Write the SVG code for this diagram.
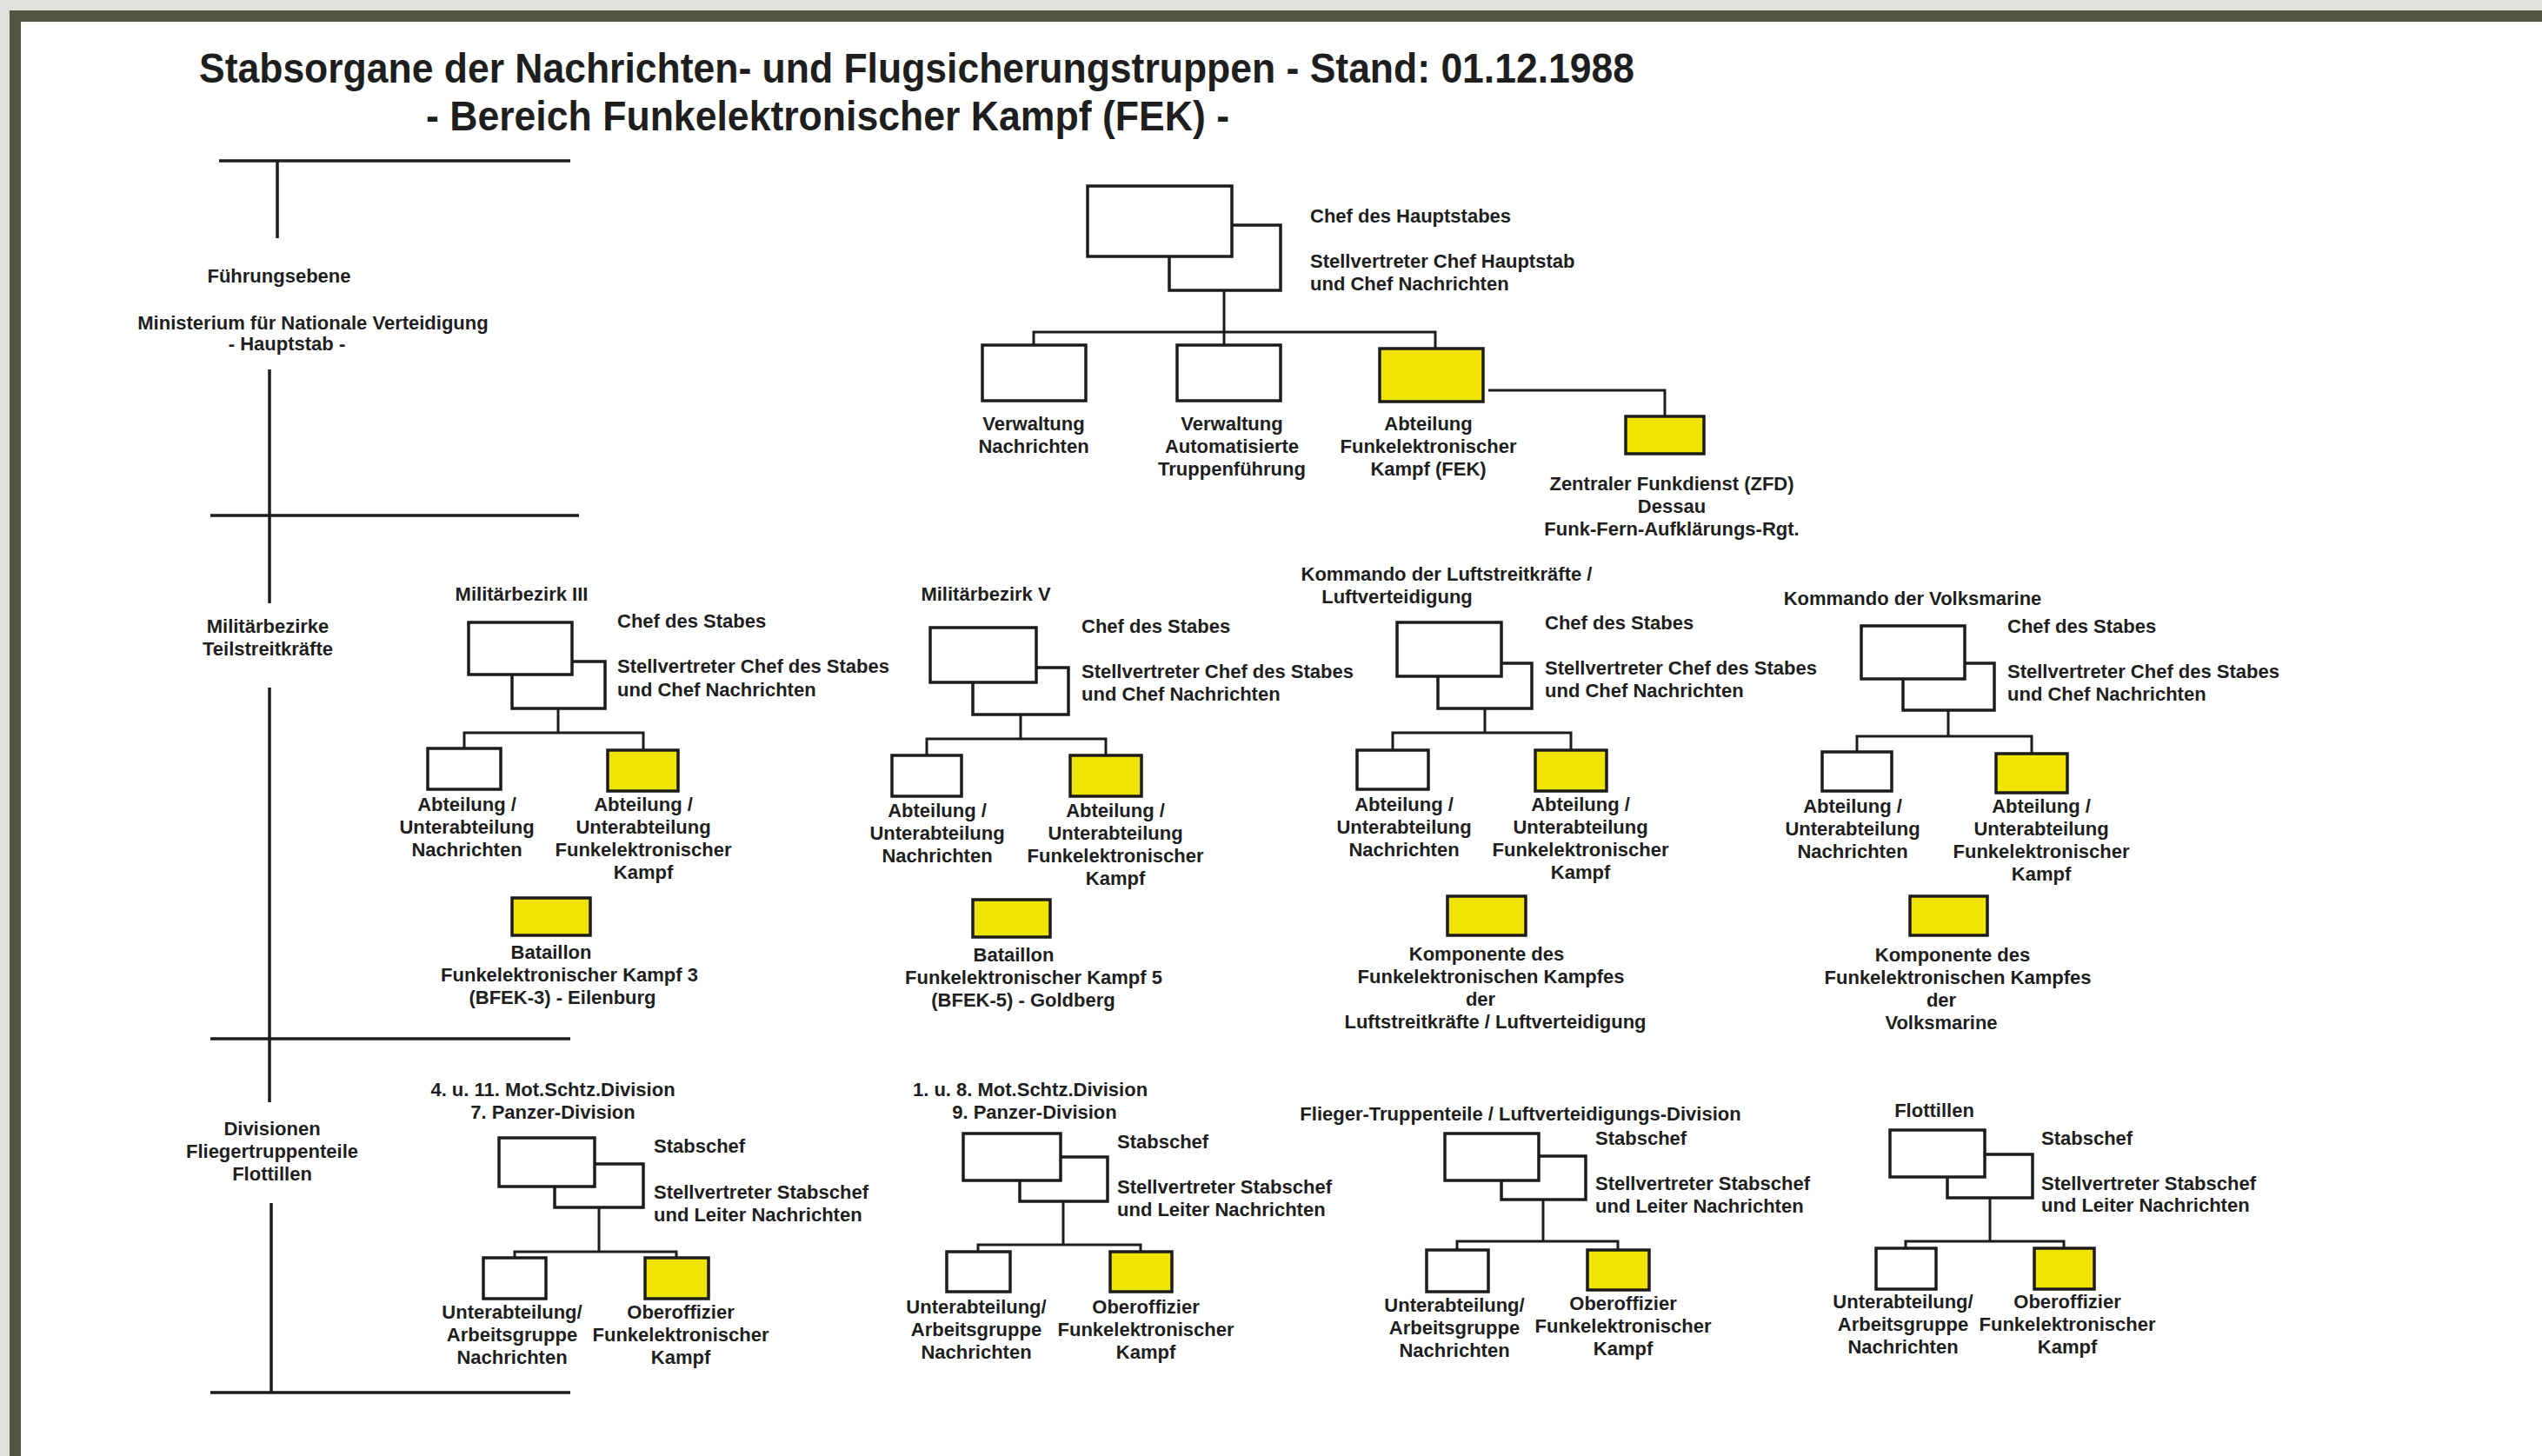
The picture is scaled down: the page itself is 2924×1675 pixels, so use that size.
<svg xmlns="http://www.w3.org/2000/svg" width="2924" height="1675" viewBox="0 0 2924 1675">
<style>
.bx{fill:#fff;stroke:#1c1c1c;stroke-width:3.5}
.yb{fill:#f0e400;stroke:#1c1c1c;stroke-width:3.5}
.c{fill:none;stroke:#1c1c1c;stroke-width:3}
.ax{fill:none;stroke:#1c1c1c;stroke-width:3.5}
text{font-family:"Liberation Sans",Arial,sans-serif;font-weight:bold;font-size:22px;fill:#1e1e1e}
.m{text-anchor:middle}
.ti{font-size:48px}
</style>
<rect x="0" y="0" width="2924" height="1675" fill="#e2e1dc"/>
<rect x="11" y="12" width="2913" height="1663" fill="#535740"/>
<rect x="24" y="25" width="2900" height="1650" fill="#ffffff"/>

<g id="title">
<text class="ti" x="229" y="95" textLength="1651" lengthAdjust="spacingAndGlyphs">Stabsorgane der Nachrichten- und Flugsicherungstruppen - Stand: 01.12.1988</text>
<text class="ti" x="490" y="150" textLength="924" lengthAdjust="spacingAndGlyphs">- Bereich Funkelektronischer Kampf (FEK) -</text>
</g>

<g id="axis">
<path class="ax" d="M252 185H656M319 185V274M310 425V694M242 593H666M310 791V1268M242 1195H656M312 1384V1602M242 1602H656"/>
<text class="m" x="321" y="325">Führungsebene</text>
<text class="m" x="360" y="379">Ministerium für Nationale Verteidigung</text>
<text class="m" x="330" y="403">- Hauptstab -</text>
<text class="m" x="308" y="728">Militärbezirke</text>
<text class="m" x="308" y="754">Teilstreitkräfte</text>
<text class="m" x="313" y="1306">Divisionen</text>
<text class="m" x="313" y="1332">Fliegertruppenteile</text>
<text class="m" x="313" y="1358">Flottillen</text>
</g>

<g id="connectors">
<path class="c" d="M1408 334V397M1189 397V382H1651V401M1712 449H1915V479"/>
<path class="c" d="M642 815V843M534 861V843H740V863"/>
<path class="c" d="M1174 822V850M1066 869V850H1272V869"/>
<path class="c" d="M1708 815V843M1602 863V843H1807V863"/>
<path class="c" d="M2241 817V847M2136 865V847H2337V867"/>
<path class="c" d="M689 1389V1440M592 1447V1440H778V1447"/>
<path class="c" d="M1223 1382V1432M1125 1440V1432H1312V1440"/>
<path class="c" d="M1775 1380V1428M1676 1438V1428H1861V1438"/>
<path class="c" d="M2289 1378V1428M2192 1436V1428H2374V1436"/>
</g>

<g id="chef-hauptstab">
<rect class="bx" x="1345" y="259" width="128" height="75"/>
<rect class="bx" x="1251" y="214" width="166" height="81"/>
<text x="1507" y="256">Chef des Hauptstabes</text>
<text x="1507" y="308">Stellvertreter Chef Hauptstab</text>
<text x="1507" y="334">und Chef Nachrichten</text>
</g>
<g id="verw-nachrichten">
<rect class="bx" x="1130" y="397" width="119" height="64"/>
<text class="m" x="1189" y="495">Verwaltung</text>
<text class="m" x="1189" y="521">Nachrichten</text>
</g>
<g id="verw-atf">
<rect class="bx" x="1354" y="397" width="119" height="64"/>
<text class="m" x="1417" y="495">Verwaltung</text>
<text class="m" x="1417" y="521">Automatisierte</text>
<text class="m" x="1417" y="547">Truppenführung</text>
</g>
<g id="abt-fek">
<rect class="yb" x="1587" y="401" width="119" height="61"/>
<text class="m" x="1643" y="495">Abteilung</text>
<text class="m" x="1643" y="521">Funkelektronischer</text>
<text class="m" x="1643" y="547">Kampf (FEK)</text>
</g>
<g id="zfd">
<rect class="yb" x="1870" y="479" width="90" height="43"/>
<text class="m" x="1923" y="564">Zentraler Funkdienst (ZFD)</text>
<text class="m" x="1923" y="590">Dessau</text>
<text class="m" x="1923" y="616">Funk-Fern-Aufklärungs-Rgt.</text>
</g>

<!-- Militärbezirk III -->
<g id="mb3-stab">
<text class="m" x="600" y="691">Militärbezirk III</text>
<rect class="bx" x="589" y="761" width="107" height="54"/>
<rect class="bx" x="539" y="716" width="119" height="60"/>
<text x="710" y="722">Chef des Stabes</text>
<text x="710" y="774">Stellvertreter Chef des Stabes</text>
<text x="710" y="801">und Chef Nachrichten</text>
</g>
<g id="mb3-nachr">
<rect class="bx" x="492" y="861" width="84" height="47"/>
<text class="m" x="537" y="933">Abteilung /</text>
<text class="m" x="537" y="959">Unterabteilung</text>
<text class="m" x="537" y="985">Nachrichten</text>
</g>
<g id="mb3-fek">
<rect class="yb" x="699" y="863" width="81" height="47"/>
<text class="m" x="740" y="933">Abteilung /</text>
<text class="m" x="740" y="959">Unterabteilung</text>
<text class="m" x="740" y="985">Funkelektronischer</text>
<text class="m" x="740" y="1011">Kampf</text>
</g>
<g id="bfek3">
<rect class="yb" x="589" y="1033" width="90" height="43"/>
<text class="m" x="634" y="1103">Bataillon</text>
<text class="m" x="655" y="1129">Funkelektronischer Kampf 3</text>
<text class="m" x="647" y="1155">(BFEK-3) - Eilenburg</text>
</g>

<!-- Militärbezirk V -->
<g id="mb5-stab">
<text class="m" x="1134" y="691">Militärbezirk V</text>
<rect class="bx" x="1119" y="768" width="110" height="54"/>
<rect class="bx" x="1070" y="722" width="122" height="63"/>
<text x="1244" y="728">Chef des Stabes</text>
<text x="1244" y="780">Stellvertreter Chef des Stabes</text>
<text x="1244" y="806">und Chef Nachrichten</text>
</g>
<g id="mb5-nachr">
<rect class="bx" x="1026" y="869" width="80" height="47"/>
<text class="m" x="1078" y="940">Abteilung /</text>
<text class="m" x="1078" y="966">Unterabteilung</text>
<text class="m" x="1078" y="992">Nachrichten</text>
</g>
<g id="mb5-fek">
<rect class="yb" x="1231" y="869" width="82" height="47"/>
<text class="m" x="1283" y="940">Abteilung /</text>
<text class="m" x="1283" y="966">Unterabteilung</text>
<text class="m" x="1283" y="992">Funkelektronischer</text>
<text class="m" x="1283" y="1018">Kampf</text>
</g>
<g id="bfek5">
<rect class="yb" x="1119" y="1035" width="89" height="43"/>
<text class="m" x="1166" y="1106">Bataillon</text>
<text class="m" x="1189" y="1132">Funkelektronischer Kampf 5</text>
<text class="m" x="1177" y="1158">(BFEK-5) - Goldberg</text>
</g>

<!-- LSK/LV -->
<g id="lsk-stab">
<text class="m" x="1664" y="668">Kommando der Luftstreitkräfte /</text>
<text class="m" x="1607" y="694">Luftverteidigung</text>
<rect class="bx" x="1654" y="763" width="108" height="52"/>
<rect class="bx" x="1607" y="716" width="120" height="62"/>
<text x="1777" y="724">Chef des Stabes</text>
<text x="1777" y="776">Stellvertreter Chef des Stabes</text>
<text x="1777" y="802">und Chef Nachrichten</text>
</g>
<g id="lsk-nachr">
<rect class="bx" x="1561" y="863" width="82" height="45"/>
<text class="m" x="1615" y="933">Abteilung /</text>
<text class="m" x="1615" y="959">Unterabteilung</text>
<text class="m" x="1615" y="985">Nachrichten</text>
</g>
<g id="lsk-fek">
<rect class="yb" x="1766" y="863" width="82" height="47"/>
<text class="m" x="1818" y="933">Abteilung /</text>
<text class="m" x="1818" y="959">Unterabteilung</text>
<text class="m" x="1818" y="985">Funkelektronischer</text>
<text class="m" x="1818" y="1011">Kampf</text>
</g>
<g id="lsk-komp">
<rect class="yb" x="1665" y="1031" width="90" height="45"/>
<text class="m" x="1710" y="1105">Komponente des</text>
<text class="m" x="1715" y="1131">Funkelektronischen Kampfes</text>
<text class="m" x="1703" y="1157">der</text>
<text class="m" x="1720" y="1183">Luftstreitkräfte / Luftverteidigung</text>
</g>

<!-- Volksmarine -->
<g id="vm-stab">
<text class="m" x="2200" y="696">Kommando der Volksmarine</text>
<rect class="bx" x="2189" y="763" width="105" height="54"/>
<rect class="bx" x="2141" y="720" width="119" height="61"/>
<text x="2309" y="728">Chef des Stabes</text>
<text x="2309" y="780">Stellvertreter Chef des Stabes</text>
<text x="2309" y="806">und Chef Nachrichten</text>
</g>
<g id="vm-nachr">
<rect class="bx" x="2096" y="865" width="80" height="45"/>
<text class="m" x="2131" y="935">Abteilung /</text>
<text class="m" x="2131" y="961">Unterabteilung</text>
<text class="m" x="2131" y="987">Nachrichten</text>
</g>
<g id="vm-fek">
<rect class="yb" x="2296" y="867" width="82" height="45"/>
<text class="m" x="2348" y="935">Abteilung /</text>
<text class="m" x="2348" y="961">Unterabteilung</text>
<text class="m" x="2348" y="987">Funkelektronischer</text>
<text class="m" x="2348" y="1013">Kampf</text>
</g>
<g id="vm-komp">
<rect class="yb" x="2197" y="1031" width="89" height="45"/>
<text class="m" x="2246" y="1106">Komponente des</text>
<text class="m" x="2252" y="1132">Funkelektronischen Kampfes</text>
<text class="m" x="2233" y="1158">der</text>
<text class="m" x="2233" y="1184">Volksmarine</text>
</g>

<!-- Division A -->
<g id="divA-stab">
<text class="m" x="636" y="1261">4. u. 11. Mot.Schtz.Division</text>
<text class="m" x="636" y="1287">7. Panzer-Division</text>
<rect class="bx" x="638" y="1339" width="102" height="50"/>
<rect class="bx" x="574" y="1309" width="110" height="56"/>
<text x="752" y="1326">Stabschef</text>
<text x="752" y="1379">Stellvertreter Stabschef</text>
<text x="752" y="1405">und Leiter Nachrichten</text>
</g>
<g id="divA-nachr">
<rect class="bx" x="556" y="1447" width="72" height="47"/>
<text class="m" x="589" y="1517">Unterabteilung/</text>
<text class="m" x="589" y="1543">Arbeitsgruppe</text>
<text class="m" x="589" y="1569">Nachrichten</text>
</g>
<g id="divA-fek">
<rect class="yb" x="742" y="1447" width="73" height="47"/>
<text class="m" x="783" y="1517">Oberoffizier</text>
<text class="m" x="783" y="1543">Funkelektronischer</text>
<text class="m" x="783" y="1569">Kampf</text>
</g>

<!-- Division B -->
<g id="divB-stab">
<text class="m" x="1185" y="1261">1. u. 8. Mot.Schtz.Division</text>
<text class="m" x="1190" y="1287">9. Panzer-Division</text>
<rect class="bx" x="1173" y="1331" width="101" height="51"/>
<rect class="bx" x="1108" y="1304" width="112" height="54"/>
<text x="1285" y="1321">Stabschef</text>
<text x="1285" y="1373">Stellvertreter Stabschef</text>
<text x="1285" y="1399">und Leiter Nachrichten</text>
</g>
<g id="divB-nachr">
<rect class="bx" x="1089" y="1440" width="73" height="46"/>
<text class="m" x="1123" y="1511">Unterabteilung/</text>
<text class="m" x="1123" y="1537">Arbeitsgruppe</text>
<text class="m" x="1123" y="1563">Nachrichten</text>
</g>
<g id="divB-fek">
<rect class="yb" x="1277" y="1440" width="71" height="46"/>
<text class="m" x="1318" y="1511">Oberoffizier</text>
<text class="m" x="1318" y="1537">Funkelektronischer</text>
<text class="m" x="1318" y="1563">Kampf</text>
</g>

<!-- Division C -->
<g id="divC-stab">
<text class="m" x="1749" y="1289">Flieger-Truppenteile / Luftverteidigungs-Division</text>
<rect class="bx" x="1727" y="1330" width="97" height="50"/>
<rect class="bx" x="1662" y="1304" width="108" height="54"/>
<text x="1835" y="1317">Stabschef</text>
<text x="1835" y="1369">Stellvertreter Stabschef</text>
<text x="1835" y="1395">und Leiter Nachrichten</text>
</g>
<g id="divC-nachr">
<rect class="bx" x="1641" y="1438" width="71" height="48"/>
<text class="m" x="1673" y="1509">Unterabteilung/</text>
<text class="m" x="1673" y="1535">Arbeitsgruppe</text>
<text class="m" x="1673" y="1561">Nachrichten</text>
</g>
<g id="divC-fek">
<rect class="yb" x="1826" y="1438" width="71" height="46"/>
<text class="m" x="1867" y="1507">Oberoffizier</text>
<text class="m" x="1867" y="1533">Funkelektronischer</text>
<text class="m" x="1867" y="1559">Kampf</text>
</g>

<!-- Division D -->
<g id="divD-stab">
<text class="m" x="2225" y="1285">Flottillen</text>
<rect class="bx" x="2240" y="1328" width="98" height="50"/>
<rect class="bx" x="2174" y="1300" width="109" height="54"/>
<text x="2348" y="1317">Stabschef</text>
<text x="2348" y="1369">Stellvertreter Stabschef</text>
<text x="2348" y="1394">und Leiter Nachrichten</text>
</g>
<g id="divD-nachr">
<rect class="bx" x="2158" y="1436" width="69" height="47"/>
<text class="m" x="2189" y="1505">Unterabteilung/</text>
<text class="m" x="2189" y="1531">Arbeitsgruppe</text>
<text class="m" x="2189" y="1557">Nachrichten</text>
</g>
<g id="divD-fek">
<rect class="yb" x="2340" y="1436" width="69" height="47"/>
<text class="m" x="2378" y="1505">Oberoffizier</text>
<text class="m" x="2378" y="1531">Funkelektronischer</text>
<text class="m" x="2378" y="1557">Kampf</text>
</g>
</svg>
